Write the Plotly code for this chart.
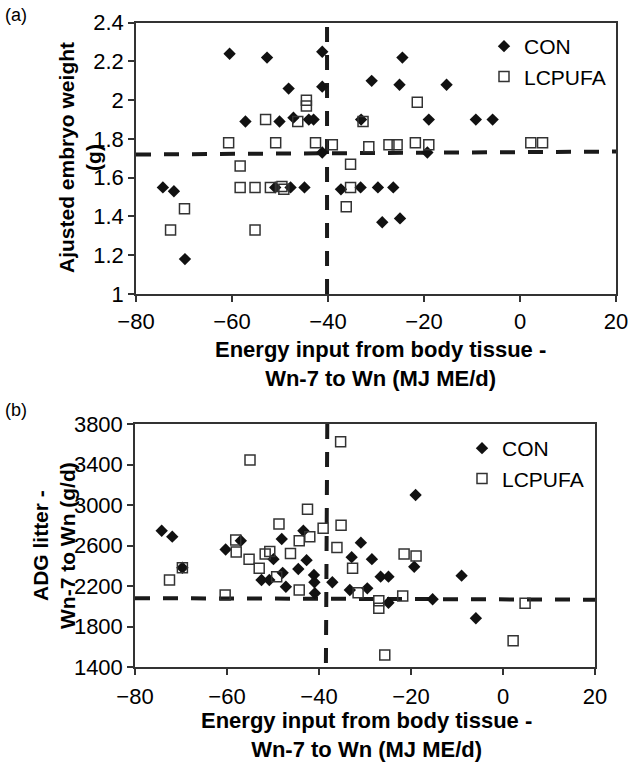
import plotly.graph_objects as go

# ---------------- Panel (a) data ----------------
a_con_x = [-74.4, -72.1, -69.8, -60.5, -57.2, -52.7, -51.0, -50.1, -48.2, -47.8, -47.2, -44.9, -44.0,
           -43.0, -41.2, -41.2, -41.2, -37.3, -33.2, -33.1, -30.9, -29.6, -28.7, -26.4, -25.1, -25.0,
           -24.5, -19.3, -19.0, -15.3, -9.2, -5.7]
a_con_y = [1.55, 1.53, 1.18, 2.24, 1.89, 2.22, 1.55, 1.89, 2.06, 1.55, 1.91, 1.55, 1.90,
           1.90, 2.25, 2.07, 1.73, 1.54, 1.55, 1.90, 2.10, 1.55, 1.37, 1.55, 2.08, 1.39,
           2.22, 1.73, 1.90, 2.08, 1.90, 1.90]
a_lc_x = [-72.8, -69.9, -60.7, -58.3, -58.3, -55.2, -55.2, -53.0, -52.0, -50.9, -49.6, -49.2, -46.3,
          -44.5, -44.5, -42.6, -39.1, -36.2, -35.3, -35.3, -32.7, -31.5, -27.3, -25.6, -21.8, -21.4,
          -19.0, 2.25, 4.7]
a_lc_y = [1.33, 1.44, 1.78, 1.66, 1.55, 1.55, 1.33, 1.90, 1.55, 1.78, 1.555, 1.54, 1.89,
          2.00, 1.97, 1.78, 1.77, 1.45, 1.67, 1.55, 1.89, 1.76, 1.77, 1.77, 1.78, 1.99,
          1.77, 1.78, 1.78]
a_hline_x = [-80, 20]
a_hline_y = [1.72, 1.735]
a_vline_x = [-40.2, -40.2]
a_vline_y = [1.0, 2.4]
a_xticks = [-80, -60, -40, -20, 0, 20]
a_yticks = [1, 1.2, 1.4, 1.6, 1.8, 2, 2.2, 2.4]
a_ytick_labels = ["1", "1.2", "1.4", "1.6", "1.8", "2", "2.2", "2.4"]

# ---------------- Panel (b) data ----------------
b_con_x = [-74.2, -71.9, -69.7, -60.3, -57.0, -52.5, -50.8, -49.9, -48.1, -47.9, -47.2, -44.5, -43.4,
           -42.7, -41.1, -41.0, -40.9, -37.1, -33.3, -32.9, -30.9, -29.5, -28.5, -26.6, -24.9, -24.9,
           -19.3, -19.0, -15.3, -9.0, -5.9]
b_con_y = [2746, 2687, 2380, 2560, 2647, 2259, 2259, 2465, 2664, 2330, 2193, 2368, 2746,
           2455, 2309, 2237, 2128, 2237, 2160, 2485, 2628, 2177, 2465, 2292, 2292, 2035,
           2390, 3099, 2069, 2302, 1881]
b_lc_x = [-72.5, -69.7, -60.4, -58.1, -58.0, -55.0, -55.2, -53.0, -51.7, -50.7, -49.2, -48.7, -46.2,
          -44.3, -44.3, -42.5, -42.0, -39.1, -36.1, -35.3, -35.2, -32.7, -31.5, -27.0, -27.0, -25.7,
          -21.8, -21.5, -18.9, 2.2, 4.8]
b_lc_y = [2259, 2380, 2111, 2654, 2535, 3444, 2465, 2375, 2515, 2540, 2292, 2812, 2520,
          2647, 2160, 2957, 2687, 2770, 2580, 3625, 2800, 2375, 2134, 2055, 1980, 1518,
          2101, 2516, 2496, 1660, 2029]
b_hline_x = [-80, 20]
b_hline_y = [2080, 2065]
b_vline_x = [-38.2, -38.5]
b_vline_y = [3800, 1400]
b_xticks = [-80, -60, -40, -20, 0, 20]
b_yticks = [1400, 1800, 2200, 2600, 3000, 3400, 3800]

FONT = "Liberation Sans, Arial, sans-serif"
dash_line = dict(color="#1a1a1a", width=4, dash="15px,13px")
con_marker = dict(symbol="diamond", size=9.5, color="#111111", line=dict(width=0))
lc_marker = dict(symbol="square-open", size=10, color="#333333", line=dict(width=1.5, color="#333333"))

fig = go.Figure()

# panel a
fig.add_trace(go.Scatter(x=a_hline_x, y=a_hline_y, mode="lines", line=dash_line,
                         showlegend=False, xaxis="x", yaxis="y", hoverinfo="skip"))
fig.add_trace(go.Scatter(x=a_vline_x, y=a_vline_y, mode="lines", line=dash_line,
                         showlegend=False, xaxis="x", yaxis="y", hoverinfo="skip"))
fig.add_trace(go.Scatter(x=a_con_x, y=a_con_y, mode="markers", name="CON", marker=con_marker,
                         xaxis="x", yaxis="y", legend="legend"))
fig.add_trace(go.Scatter(x=a_lc_x, y=a_lc_y, mode="markers", name="LCPUFA", marker=lc_marker,
                         xaxis="x", yaxis="y", legend="legend"))

# panel b
fig.add_trace(go.Scatter(x=b_hline_x, y=b_hline_y, mode="lines", line=dash_line,
                         showlegend=False, xaxis="x2", yaxis="y2", hoverinfo="skip"))
fig.add_trace(go.Scatter(x=b_vline_x, y=b_vline_y, mode="lines", line=dash_line,
                         showlegend=False, xaxis="x2", yaxis="y2", hoverinfo="skip"))
fig.add_trace(go.Scatter(x=b_con_x, y=b_con_y, mode="markers", name="CON", marker=con_marker,
                         xaxis="x2", yaxis="y2", legend="legend2"))
fig.add_trace(go.Scatter(x=b_lc_x, y=b_lc_y, mode="markers", name="LCPUFA", marker=lc_marker,
                         xaxis="x2", yaxis="y2", legend="legend2"))

W, H = 629, 763
ax_common = dict(showline=True, linecolor="#333333", linewidth=1.5, mirror=True,
                 ticks="outside", ticklen=6, tickwidth=1.5, tickcolor="#333333", automargin=False,
                 showgrid=False, zeroline=False, tickfont=dict(family=FONT, size=22, color="black"))

fig.update_layout(
    width=W, height=H,
    margin=dict(l=0, r=0, t=0, b=0, autoexpand=False),
    paper_bgcolor="white", plot_bgcolor="white",
    font=dict(family=FONT, color="black"),
    xaxis=dict(domain=[136 / W, 616 / W], range=[-80, 20], tickvals=a_xticks, anchor="y",
               ticklabelstandoff=1, **ax_common),
    yaxis=dict(domain=[1 - 294 / H, 1 - 22.7 / H], range=[1, 2.4], tickvals=a_yticks,
               ticktext=a_ytick_labels, anchor="x", **ax_common),
    xaxis2=dict(domain=[135 / W, 595 / W], range=[-80, 20], tickvals=b_xticks, anchor="y2",
                ticklabelstandoff=3, **ax_common),
    yaxis2=dict(domain=[1 - 667 / H, 1 - 424 / H], range=[1400, 3800], tickvals=b_yticks,
                anchor="x2", **ax_common),
    legend=dict(x=484 / W, y=1 - 26 / H, xanchor="left", yanchor="top", bgcolor="rgba(0,0,0,0)",
                font=dict(family=FONT, size=21, color="black"), itemwidth=30),
    legend2=dict(x=462 / W, y=1 - 428 / H, xanchor="left", yanchor="top", bgcolor="rgba(0,0,0,0)",
                 font=dict(family=FONT, size=21, color="black"), itemwidth=30),
    showlegend=True,
)

ytitle_font = dict(family=FONT, size=21, color="black")
xtitle_font = dict(family=FONT, size=22, color="black")
common_ann = dict(showarrow=False, xref="paper", yref="paper", xanchor="center", yanchor="middle")
annotations = [
    dict(text="(a)", x=16 / W, y=1 - 15 / H, font=dict(family=FONT, size=18, color="black"), **common_ann),
    dict(text="(b)", x=16 / W, y=1 - 410 / H, font=dict(family=FONT, size=18, color="black"), **common_ann),
    dict(text="<b>Ajusted embryo weight<br>(g)</b>", x=80 / W, y=1 - 158 / H, textangle=-90,
         font=ytitle_font, **common_ann),
    dict(text="<b>Energy input from body tissue -<br>Wn-7 to Wn (MJ ME/d)</b>", x=380 / W, y=1 - 364 / H,
         font=xtitle_font, **common_ann),
    dict(text="<b>ADG litter -<br>Wn-7 to Wn (g/d)</b>", x=54 / W, y=1 - 546 / H, textangle=-90,
         font=ytitle_font, **common_ann),
    dict(text="<b>Energy input from body tissue -<br>Wn-7 to Wn (MJ ME/d)</b>", x=366 / W, y=1 - 735 / H,
         font=xtitle_font, **common_ann),
]
fig.update_layout(annotations=annotations)

fig.write_html("out.html", config={"displayModeBar": False},
               post_script="document.body.style.margin='0px';")
